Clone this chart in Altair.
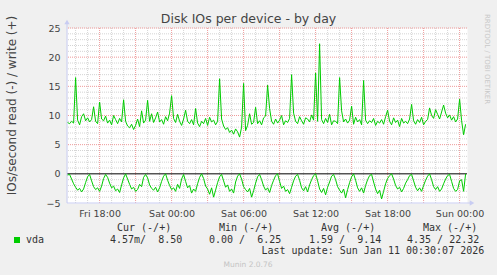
import altair as alt
import pandas as pd

# ---------------- data ----------------
write_vals = [
    8.8, 8.6, 9.0, 8.7, 16.5, 9.2, 8.4, 9.8, 10.3, 9.1,
    9.6, 8.9, 9.3, 11.5, 9.0, 8.6, 12.3, 9.4, 9.1, 9.9,
    8.7, 9.2, 8.4, 10.0, 9.3, 8.6, 9.5, 8.9, 12.7, 9.0,
    8.2, 7.9, 8.5, 7.6, 8.3, 9.4, 8.1, 10.8, 8.7, 9.2,
    12.6, 9.0, 10.3, 8.8, 9.6, 10.6, 8.9, 9.3, 8.5, 9.8,
    9.1, 10.4, 13.4, 9.5, 8.8, 10.2, 9.0, 8.3, 9.4, 10.9,
    9.0, 8.6, 9.3, 8.4, 11.2, 8.7, 8.1, 9.0, 8.6, 9.5,
    8.3, 9.7, 8.9, 9.2, 8.4, 9.0, 16.3, 9.4, 8.2, 7.6,
    7.9, 7.1, 7.5, 6.8, 7.7, 7.2, 6.3, 8.0, 15.5, 7.4,
    8.3, 10.3, 8.5, 8.8, 11.4, 8.6, 9.1, 8.4, 9.6, 9.9,
    15.2, 11.2, 9.0, 8.5, 9.4, 8.7, 9.2, 10.0, 8.4, 9.1,
    8.8, 9.5, 17.0, 10.4, 9.0, 8.6, 9.8, 9.1, 8.5, 9.6,
    9.4, 8.9, 10.1, 9.2, 17.3, 9.0, 22.3, 9.3, 8.6, 9.5,
    8.8, 10.2, 8.4, 9.1, 9.0, 8.6, 16.5, 10.8, 8.9, 9.4,
    8.7, 9.2, 11.6, 8.5, 9.7, 8.9, 9.3, 8.4, 16.0, 9.2,
    8.6, 9.1, 8.8, 9.5, 8.3, 9.0, 8.7, 9.3, 8.5, 9.8,
    10.9, 9.0, 8.4, 9.6, 8.8, 9.2, 8.1, 9.5, 8.7, 9.0,
    8.6, 9.4, 11.9, 9.1, 8.5, 9.3, 8.8, 9.7, 8.4, 9.0,
    9.3, 11.3, 10.0, 9.5, 11.0, 10.2, 9.4, 10.6, 11.8, 10.4,
    9.6, 10.1, 9.2, 9.8, 8.9, 9.4, 12.8, 9.1, 6.7, 8.5,
]

# read IOs/second (drawn below zero)
read_vals = [
    0.2, 0.1, 0.9, 1.7, 2.3, 2.8, 2.5, 3.1, 2.6, 1.5, 0.5,
    0.1, 1.2, 2.2, 2.7, 2.4, 3.0, 2.1, 0.8,
    0.1, 0.6, 1.6, 2.4, 2.1, 2.9, 2.6, 3.2, 1.9, 0.7,
    0.0, 0.9, 1.8, 2.6, 2.3, 3.0, 2.7, 1.8, 2.2, 0.6,
    0.1, 0.7, 1.9, 2.5, 2.8, 2.3, 3.1, 2.4, 1.3, 0.4,
    0.0, 1.1, 2.0, 2.7, 2.4, 3.0, 1.8, 2.5, 0.9,
    0.1, 1.3, 2.4, 2.0, 3.3, 2.6, 3.0, 1.7, 0.6,
    0.0, 0.8, 2.1, 2.6, 3.5, 2.4, 4.0, 2.8, 1.5, 0.5,
    0.1, 1.2, 2.3, 1.9, 3.0, 2.6, 3.3, 1.4, 0.4,
    0.0, 0.9, 2.2, 2.7, 3.1, 2.5, 4.0, 2.9, 1.6, 0.5,
    0.1, 1.0, 2.1, 2.8, 2.4, 3.2, 2.0, 1.1, 0.3,
    0.0, 1.3, 2.5, 2.1, 3.0, 2.7, 3.4, 2.3, 1.2, 0.4,
    0.1, 1.1, 2.4, 2.9, 2.2, 3.1, 1.9, 1.0, 0.3,
    0.0, 1.2, 2.6, 3.2, 2.5, 3.6, 2.3, 1.4, 0.4,
    0.1, 1.0, 2.2, 2.8, 3.3, 2.6, 4.1, 2.7, 1.5, 0.5,
    0.0, 1.1, 2.4, 3.0, 2.4, 3.3, 2.0, 1.0, 0.3,
    0.1, 1.4, 2.6, 3.4, 2.8, 4.3, 3.0, 1.7, 0.8, 0.3,
    0.0, 0.9, 2.0, 2.6, 2.3, 3.1, 2.5, 1.6, 1.0, 0.3,
    0.1, 1.2, 2.3, 2.9, 2.4, 3.0, 2.0, 1.1, 0.4,
    0.0, 1.0, 2.2, 2.7, 2.2, 3.0, 2.6, 1.7, 0.9, 0.3,
    0.1, 1.3, 2.5, 3.0, 2.7, 1.2,
    1.0, 3.0, 0.005,
]

x_label_times = ["2026-01-09T18:00:00Z", "2026-01-10T00:00:00Z", "2026-01-10T06:00:00Z",
                 "2026-01-10T12:00:00Z", "2026-01-10T18:00:00Z", "2026-01-11T00:00:00Z"]
major_x_times = ["2026-01-09T18:00:00Z", "2026-01-09T21:00:00Z", "2026-01-10T00:00:00Z",
                 "2026-01-10T03:00:00Z", "2026-01-10T06:00:00Z", "2026-01-10T09:00:00Z",
                 "2026-01-10T12:00:00Z", "2026-01-10T15:00:00Z", "2026-01-10T18:00:00Z",
                 "2026-01-10T21:00:00Z", "2026-01-11T00:00:00Z"]
y_ticks = [-5, 0, 5, 10, 15, 20, 25]
major_y = [5, 10, 15, 20, 25]
minor_y = [v for v in range(-4, 25) if v % 5 != 0]

title_text = "Disk IOs per device - by day"
y_title = "IOs/second read (-) / write (+)"
legend_headers = ["Cur (-/+)", "Min (-/+)", "Avg (-/+)", "Max (-/+)"]
legend_values = ["4.57m/\u00a0\u00a08.50", "0.00 /\u00a0\u00a06.25", "1.59 /\u00a0\u00a09.14", "4.35 / 22.32"]
series_name = "vda"
last_update = "Last update: Sun Jan 11 00:30:07 2026"
side_text = "RRDTOOL / TOBI OETIKER"
footer = "Munin 2.0.76"

# ---------------- tables ----------------
def stamps(n):
    return pd.date_range("2026-01-09 15:20", periods=n, freq="10min").strftime("%Y-%m-%dT%H:%M:%SZ").tolist()

write_df = pd.DataFrame({"time": stamps(len(write_vals)), "v": write_vals})
read_df = pd.DataFrame({"time": stamps(len(read_vals)), "r": read_vals})
read_df["v"] = -read_df["r"]

all_hours = pd.date_range("2026-01-09 16:00", "2026-01-11 00:00", freq="1h").strftime("%Y-%m-%dT%H:%M:%SZ").tolist()
minor_x_df = pd.DataFrame({"time": [h for h in all_hours if h not in major_x_times]})
major_x_df = pd.DataFrame({"time": major_x_times})
minor_y_df = pd.DataFrame({"v": minor_y})
major_y_df = pd.DataFrame({"v": major_y})

GREEN = "#00CC00"
AXIS_C = "#C8CCF2"
FONT = "DejaVu Sans"
MONO = "DejaVu Sans Mono"

x_scale = alt.Scale(type="utc", domain=[
    alt.DateTime(year=2026, month=1, date=9, hours=15, minutes=17, utc=True),
    alt.DateTime(year=2026, month=1, date=11, hours=0, minutes=37, utc=True)])
y_scale = alt.Scale(domain=[-5, 25], nice=False, zero=False)

def xdt(s):
    d = pd.Timestamp(s)
    return alt.DateTime(year=d.year, month=d.month, date=d.day, hours=d.hour, minutes=d.minute, utc=True)

x_axis = alt.Axis(values=[xdt(s) for s in x_label_times],
                  labelExpr="utcFormat(datum.value, '%a %H:%M')",
                  labelFont=FONT, labelFontSize=9.5, labelColor="#444444", grid=False, ticks=False,
                  domain=False, labelPadding=5, title=None, labelFlush=False, labelOverlap=False)
y_axis = alt.Axis(values=y_ticks, labelFont=FONT, labelFontSize=9.5, labelColor="#444444",
                  grid=False, ticks=False, domain=False, labelPadding=7,
                  title=y_title, titleFont=FONT, titleFontSize=12, titleFontWeight="normal",
                  titleColor="#444444", titleX=-56, titleY=77, titleAngle=-90,
                  titleAlign="center", titleBaseline="middle")

X = alt.X("time:T", scale=x_scale, axis=x_axis)
Y = alt.Y("v:Q", scale=y_scale, axis=y_axis)

minor_x = alt.Chart(minor_x_df).mark_rule(color="#D4D4D4", strokeDash=[1, 1], strokeWidth=1).encode(x=X)
major_x = alt.Chart(major_x_df).mark_rule(color="#EE9A9A", strokeDash=[1, 1], strokeWidth=1).encode(x=X)
minor_yl = alt.Chart(minor_y_df).mark_rule(color="#D4D4D4", strokeDash=[1, 1], strokeWidth=1).encode(y=Y)
major_yl = alt.Chart(major_y_df).mark_rule(color="#EE9A9A", strokeDash=[1, 1], strokeWidth=1).encode(y=Y)

write_line = alt.Chart(write_df).mark_line(color=GREEN, strokeWidth=1).encode(x=X, y=Y)
read_line = alt.Chart(read_df).mark_line(color=GREEN, strokeWidth=1).encode(x=X, y=Y)

one = alt.Data(values=[{"a": 1}])
zero_line = alt.Chart(pd.DataFrame({"v": [0]})).mark_rule(color="black", strokeWidth=1).encode(y=Y)

x_axis_line = alt.Chart(one).mark_rule(color=AXIS_C, strokeWidth=1).encode(
    x=alt.value(0), x2=alt.value(404), y=alt.value(175))
y_axis_line = alt.Chart(one).mark_rule(color=AXIS_C, strokeWidth=1).encode(
    x=alt.value(0), y=alt.value(-5), y2=alt.value(175))
x_arrow = alt.Chart(one).mark_point(shape="triangle-right", filled=True, color=AXIS_C, size=28, opacity=1).encode(
    x=alt.value(405), y=alt.value(175))
y_arrow = alt.Chart(one).mark_point(shape="triangle-up", filled=True, color=AXIS_C, size=28, opacity=1).encode(
    x=alt.value(0), y=alt.value(-6))

def label(text, x, y, size=10, color="#333333", font=MONO, align="left", angle=0):
    return alt.Chart(one).mark_text(text=text, font=font, fontSize=size, color=color,
                                    align=align, baseline="middle", angle=angle).encode(
        x=alt.value(x), y=alt.value(y))

texts = [
    label(title_text, 181.5, -9, size=12.5, color="#444444", font=FONT, align="center"),
    label(side_text, 419.5, 31, size=7, color="#C8C8C8", font=FONT, align="center", angle=90),
    label(series_name, -41, 212),
    label(last_update, 194.5, 223),
    label(footer, 181, 236.5, size=7.5, color="#C4C4C4", font=FONT, align="center"),
]
for hx, h in zip([50, 152, 254, 356], legend_headers):
    texts.append(label(h, hx, 200))
for vx, v in zip([43, 142, 242, 340], legend_values):
    texts.append(label(v, vx, 212))

legend_sq = alt.Chart(one).mark_rect(color=GREEN).encode(
    x=alt.value(-53), x2=alt.value(-47), y=alt.value(209), y2=alt.value(215))

chart = alt.layer(
    minor_x, minor_yl, major_x, major_yl, zero_line,
    x_axis_line, y_axis_line, x_arrow, y_arrow,
    write_line, read_line, legend_sq, *texts
).properties(
    width=400, height=175,
    padding={"left": 67, "top": 28, "right": 30, "bottom": 72},
    autosize="none",
    background="#F0F0F0",
).configure_view(fill="white", stroke="transparent")

chart.save("out.html", embed_options={"renderer": "svg", "actions": False})
